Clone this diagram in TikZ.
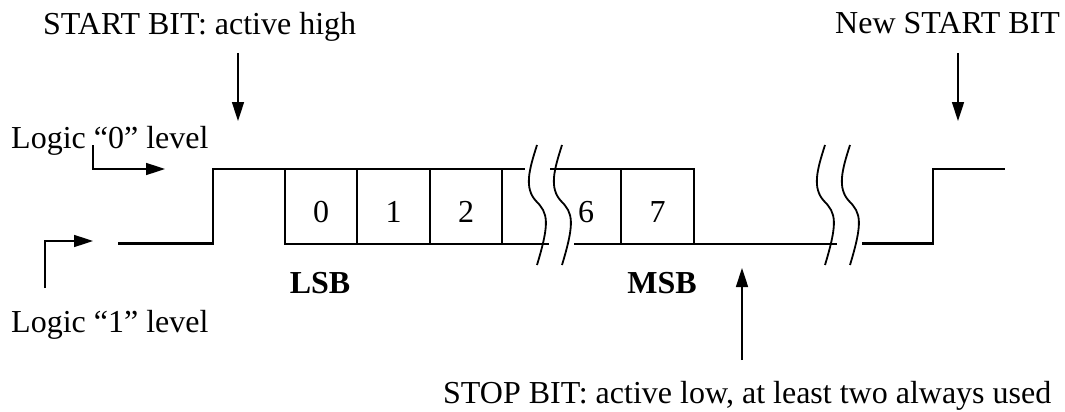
\documentclass[tikz,border=0pt]{standalone}
\usepackage{fontspec}
\setmainfont{Liberation Serif}
\usetikzlibrary{arrows.meta}
\begin{document}
\begin{tikzpicture}[x=1pt,y=-1pt,
  sig/.style={line width=2.6pt, line join=miter},
  arr/.style={line width=1.6pt, -{Triangle[length=19pt,width=12pt]}},
  brk/.style={line width=1.8pt},
  lbl/.style={font=\fontsize{32}{38}\selectfont, inner sep=0pt, anchor=base west},
  num/.style={font=\fontsize{32}{38}\selectfont, inner sep=0pt, anchor=base},
  bnum/.style={font=\fontsize{32}{38}\selectfont\bfseries, inner sep=0pt, anchor=base}]
\useasboundingbox (0,0) rectangle (1065,412);

% texts
\node[lbl] (startbit) at (43,35) {START BIT: active high};
\node[lbl] (newstart) at (835,34) {New START BIT};
\node[lbl] (logic0) at (11,148) {Logic “0” level};
\node[lbl] (logic1) at (11,332) {Logic “1” level};
\node[lbl] (stopbit) at (443,403) {STOP BIT: active low, at least two always used};
\node[bnum] (lsb) at (320,293) {LSB};
\node[bnum] (msb) at (662,293) {MSB};
\node[num] (b0) at (321,222) {0};
\node[num] (b1) at (393.5,222) {1};
\node[num] (b2) at (466,222) {2};
\node[num] (b6) at (586,222) {6};
\node[num] (b7) at (657.5,222) {7};

% arrows
\coordinate (l0a) at (93,145);
\coordinate (l0b) at (165,169);
\draw[arr] (l0a) |- (l0b);
\coordinate (l1a) at (45,288);
\coordinate (l1b) at (93,241);
\draw[arr] (l1a) |- (l1b);
\coordinate (sba) at (238,53);
\coordinate (sbb) at (238,121);
\draw[arr] (sba) -- (sbb);
\coordinate (nsa) at (958,53);
\coordinate (nsb) at (958,121);
\draw[arr] (nsa) -- (nsb);
\coordinate (spa) at (742,360);
\coordinate (spb) at (742,268);
\draw[arr] (spa) -- (spb);

% waveform
\draw[sig] (118,243.5) -- (213,243.5) -- (213,169) -- (525,169);
\draw[sig] (285,169) -- (285,244) -- (549,244);
\foreach \xx in {357,430,502} \draw[sig] (\xx,169) -- (\xx,244);
\draw[sig] (550,169) -- (694,169) -- (694,244);
\draw[sig] (621,169) -- (621,244);
\draw[sig] (574,244) -- (837,244);
\draw[sig] (862,243.5) -- (933,243.5) -- (933,169) -- (1005,169);

% break marks
\foreach \dx in {0,25,288,313}
  \draw[brk] (537+\dx,145) .. controls (529+\dx,170) and (524+\dx,188) .. (536+\dx,201)
     .. controls (548+\dx,213) and (550+\dx,222) .. (537+\dx,265);
\end{tikzpicture}
\end{document}
